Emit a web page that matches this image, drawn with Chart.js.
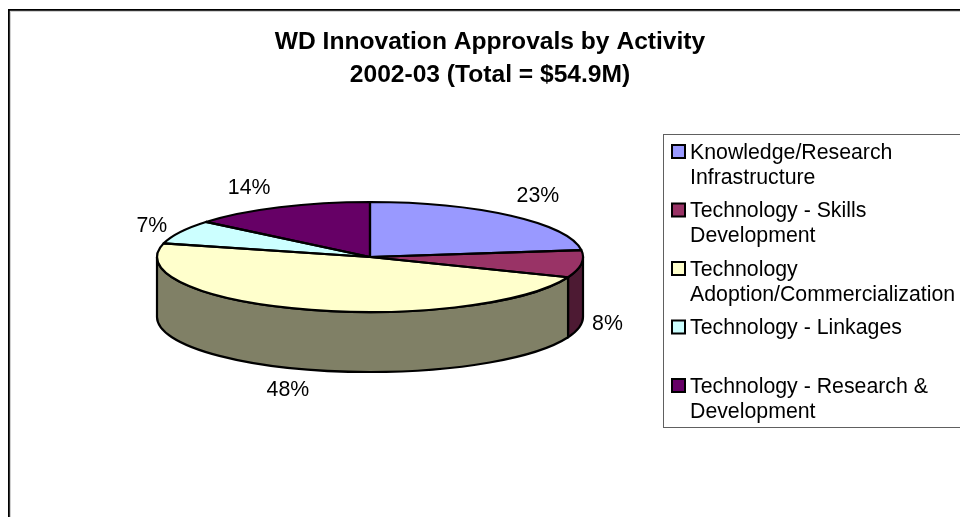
<!DOCTYPE html>
<html>
<head>
<meta charset="utf-8">
<title>WD Innovation Approvals by Activity</title>
<script src="https://cdn.jsdelivr.net/npm/chart.js@4"></script>
<style>
  html, body { margin: 0; padding: 0; background: #fff; overflow: hidden; }
  canvas { display: block; }
</style>
</head>
<body>
<canvas id="pie-chart" width="960" height="517"></canvas>
<script>
var titleLines = ["WD Innovation Approvals by Activity", "2002-03 (Total = $54.9M)"];
var categories = [
  ["Knowledge/Research", "Infrastructure"],
  ["Technology - Skills", "Development"],
  ["Technology", "Adoption/Commercialization"],
  ["Technology - Linkages"],
  ["Technology - Research &", "Development"]
];
var shares = [23, 8, 48, 7, 14];
var topColors = ["#9999FF", "#993366", "#FFFFCC", "#CCFFFF", "#660066"];
var sideColors = ["#4C4C80", "#4D1A33", "#808066", "#668080", "#330033"];

// where the flattened pie sits on the page
var pieX = 370, pieY = 257, pieRx = 213, pieRy = 55, pieDepth = 60;
var outlineWidth = 2.2;
var labelFont = "21.3px 'Liberation Sans', Arial, sans-serif";
// small hand nudges for the % labels
var nudgeX = [5, -1, -6, -4, -16];
var nudgeY = [-3, -3, 0, 4, 1];

function arcs(chart) {
  return chart.getDatasetMeta(0).data;
}

var pie3d = {
  id: "pie3d",
  beforeDraw: function (chart) {
    var ctx = chart.ctx;
    ctx.save();
    // chart frame, runs off the right and bottom of the page
    ctx.strokeStyle = "#d0d0d0";
    ctx.lineWidth = 1;
    ctx.strokeRect(10.5, 11.5, 1000, 1000);
    ctx.strokeStyle = "#000";
    ctx.lineWidth = 1.8;
    ctx.strokeRect(8.9, 9.9, 1000, 1000);
    ctx.restore();
  },
  beforeDatasetsDraw: function (chart) {
    var ctx = chart.ctx;
    // side wall, only the front half shows
    arcs(chart).forEach(function (arc, i) {
      var from = Math.max(arc.startAngle, 0);
      var to = Math.min(arc.endAngle, Math.PI);
      if (to <= from) return;
      ctx.beginPath();
      ctx.ellipse(pieX, pieY, pieRx, pieRy, 0, from, to);
      ctx.ellipse(pieX, pieY + pieDepth, pieRx, pieRy, 0, to, from, true);
      ctx.closePath();
      ctx.fillStyle = sideColors[i];
      ctx.strokeStyle = "#000";
      ctx.lineWidth = outlineWidth;
      ctx.fill();
      ctx.stroke();
    });
    // squash the library's round pie into the ellipse
    var a = arcs(chart)[0];
    ctx.save();
    ctx.translate(pieX, pieY);
    ctx.scale(pieRx / a.outerRadius, pieRy / a.outerRadius);
    ctx.translate(-a.x, -a.y);
  },
  afterDatasetsDraw: function (chart) {
    var ctx = chart.ctx;
    ctx.restore();
    // outlines go here so the squash does not thin them
    ctx.save();
    ctx.strokeStyle = "#000";
    ctx.lineWidth = outlineWidth;
    ctx.lineJoin = "round";
    arcs(chart).forEach(function (arc) {
      ctx.beginPath();
      ctx.moveTo(pieX, pieY);
      ctx.ellipse(pieX, pieY, pieRx, pieRy, 0, arc.startAngle, arc.endAngle);
      ctx.closePath();
      ctx.stroke();
    });

    // % labels
    ctx.font = labelFont;
    ctx.fillStyle = "#000";
    ctx.textAlign = "center";
    ctx.textBaseline = "middle";
    arcs(chart).forEach(function (arc, i) {
      var mid = (arc.startAngle + arc.endAngle) / 2;
      var text = shares[i] + "%";
      var half = ctx.measureText(text).width / 2;
      var x = pieX + Math.cos(mid) * (pieRx + 12 + half);
      var y = pieY + Math.sin(mid) * (pieRy + 22);
      if (Math.sin(mid) > 0) y += pieDepth;
      ctx.fillText(text, x + nudgeX[i], y + nudgeY[i]);
    });
    ctx.restore();
  },
  afterDraw: function (chart) {
    var ctx = chart.ctx;
    ctx.save();
    // legend box, also cut off by the right edge
    ctx.strokeStyle = "#606060";
    ctx.lineWidth = 1;
    ctx.fillStyle = "#fff";
    ctx.fillRect(664, 135, 300, 292);
    ctx.strokeRect(663.5, 134.5, 400, 293);
    ctx.font = labelFont;
    ctx.textAlign = "left";
    ctx.textBaseline = "middle";
    categories.forEach(function (lines, i) {
      var rowY = 152 + i * 58.5;
      ctx.fillStyle = topColors[i];
      ctx.strokeStyle = "#000";
      ctx.lineWidth = 2;
      ctx.fillRect(672, rowY - 7, 13, 13);
      ctx.strokeRect(672, rowY - 7, 13, 13);
      ctx.fillStyle = "#000";
      lines.forEach(function (line, j) {
        ctx.fillText(line, 690, rowY + 1 + j * 25);
      });
    });
    ctx.restore();
  }
};

new Chart(document.getElementById("pie-chart"), {
  type: "pie",
  data: {
    labels: categories.map(function (c) { return c.join(" "); }),
    datasets: [{
      data: shares,
      backgroundColor: topColors,
      borderWidth: 0,
      clip: false
    }]
  },
  options: {
    responsive: false,
    animation: false,
    events: [],
    layout: { padding: { left: 20, right: 0, top: 26, bottom: 0 } },
    plugins: {
      legend: { display: false },
      tooltip: { enabled: false },
      title: {
        display: true,
        text: titleLines,
        color: "#000",
        font: { family: "'Liberation Sans', Arial, sans-serif", size: 24.6, weight: "bold", lineHeight: 1.34 },
        padding: 0
      }
    }
  },
  plugins: [pie3d]
});
</script>
</body>
</html>
